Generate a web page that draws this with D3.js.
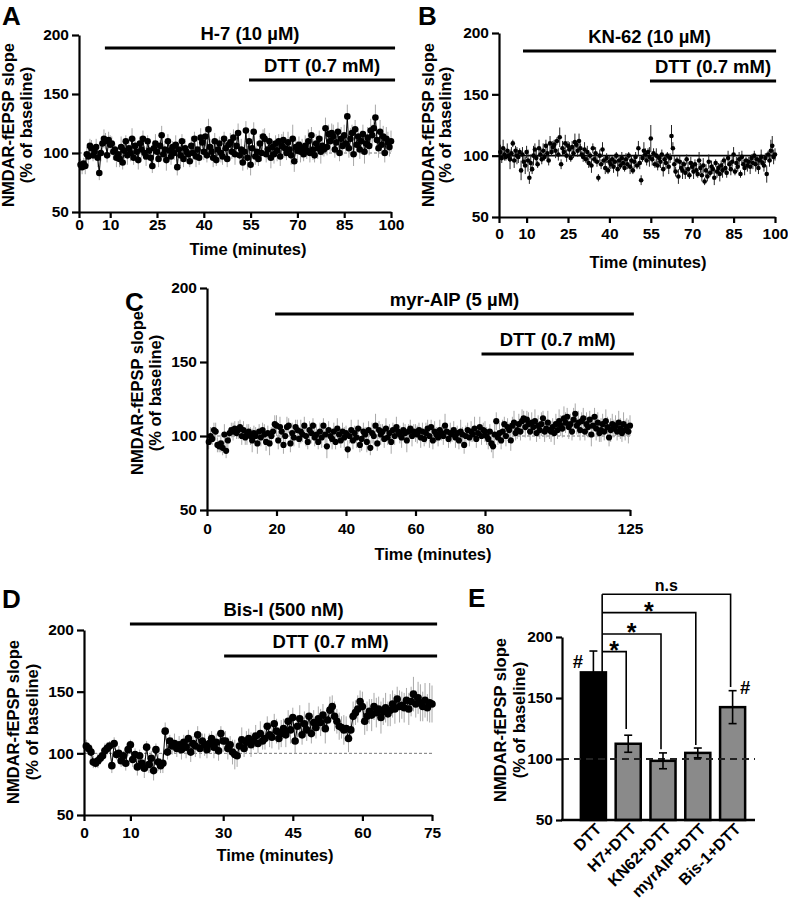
<!DOCTYPE html>
<html><head><meta charset="utf-8">
<script src="https://cdn.jsdelivr.net/npm/d3@7"></script>
<style>body{margin:0;background:#fff}</style>
</head><body><svg id="fig" width="788" height="899"></svg>
<script>
// ---------------- DATA ----------------
const yTicks=[50,100,150,200];
const sampleInterval=0.5; // minutes between recorded points

// Panel A: H-7
const valsA=[90,88,91,89,99,97,106,104,98,101,105,96,83,100,108,112,110,98,111,107,
108,101,103,96,99,95,105,92,102,110,98,104,100,112,96,106,101,94,108,103,
112,100,97,110,102,96,89,104,108,101,95,106,115,99,103,94,110,102,97,105,
100,107,88,103,98,110,95,104,101,99,93,106,100,112,97,103,96,113,109,101,
114,98,120,105,101,96,110,94,103,108,100,97,112,104,95,107,109,101,113,99,
106,117,98,103,92,101,119,96,110,90,104,118,97,101,95,108,100,114,112,99,
103,110,96,105,99,108,102,110,97,106,111,104,100,109,103,98,112,93,105,102,
107,101,104,99,106,102,110,100,115,103,98,108,104,112,101,106,103,121,105,116,
110,117,114,103,109,118,100,112,106,115,108,131,104,112,117,99,120,107,114,103,
110,116,101,108,113,106,119,115,121,130,111,104,118,107,114,100,112,109,105,110];
const errA=[5,6,5,7,6,8,6,7,5,6,7,8,6,7,6,8,7,6,7,8,
6,7,5,8,6,7,9,6,7,5,8,6,7,9,6,7,5,8,6,7,
7,6,8,5,7,9,6,7,8,6,7,5,8,6,7,9,6,8,7,5,
6,8,7,5,9,6,7,8,6,7,5,8,7,6,9,7,6,8,5,7,
8,6,9,7,6,8,7,5,9,6,8,7,6,9,7,5,8,6,7,9,
7,8,6,9,7,6,8,10,7,9,6,8,7,9,6,8,7,6,9,7,
8,7,9,6,8,7,9,6,8,10,7,8,6,9,7,8,12,9,7,8,
7,9,8,6,9,7,10,8,7,9,6,8,9,7,10,8,6,9,7,8,
9,8,10,7,9,8,7,10,8,9,7,10,8,9,7,10,8,9,7,8,
9,8,10,7,9,8,10,9,8,11,9,8,10,7,9,8,10,9,8,9];
const xTicksA=[0,10,25,40,55,70,85,100];
const drugNamesA=["H-7 (10 µM)","DTT (0.7 mM)"];
const drugStartA=[8.3,54.5], drugEndA=[101.3,101.3];

// Panel B: KN-62
const valsB=[103,98,106,101,99,104,100,97,102,110,96,104,100,99,103,88,101,95,92,103,
96,82,94,89,100,105,98,93,106,101,97,104,99,108,102,96,110,103,107,109,
104,112,101,115,93,106,103,110,100,108,105,98,107,102,111,109,104,112,106,101,
99,105,97,103,94,100,92,106,97,102,95,82,100,93,105,96,90,98,88,95,
93,97,91,95,100,89,96,92,98,94,90,97,93,100,91,96,88,95,99,92,
106,94,80,98,104,101,96,103,99,114,97,102,93,100,92,98,95,101,89,97,
94,100,91,98,116,106,93,87,96,83,95,90,88,93,86,97,89,84,94,91,
87,93,88,85,96,90,84,92,79,88,83,95,86,91,89,82,94,87,90,85,
92,88,96,90,86,98,93,89,95,101,87,94,91,97,85,99,93,90,96,92,
95,91,98,94,100,93,97,90,96,99,94,92,98,85,101,96,104,108,99,101];
const errB=[6,4,7,5,3,6,4,8,5,3,6,4,7,5,3,8,6,4,7,5,
9,5,7,4,8,5,6,3,7,5,4,6,3,5,7,4,6,3,5,4,
6,3,5,8,4,6,3,7,5,4,6,3,5,4,7,3,5,6,4,3,
4,6,3,5,4,3,6,4,3,5,4,3,5,4,6,3,5,4,3,5,
4,3,5,4,3,6,4,3,5,4,3,5,4,3,6,4,3,5,4,3,
6,5,4,3,7,5,4,3,8,11,5,4,3,6,4,3,5,4,6,3,
5,3,6,4,9,5,7,4,3,6,5,4,7,3,5,4,6,3,5,4,
6,4,5,3,7,4,5,6,3,5,4,6,3,5,4,6,3,5,4,6,
4,6,3,5,4,6,3,5,4,6,3,5,4,6,3,5,4,6,3,5,
4,6,3,5,4,6,3,5,4,6,3,5,4,7,3,5,9,8,6,5];
const xTicksB=[0,10,25,40,55,70,85,100];
const drugNamesB=["KN-62 (10 µM)","DTT (0.7 mM)"];
const drugStartB=[8.7,54.7], drugEndB=[100.4,100.4];

// Panel C: myr-AIP
const valsC=[96,100,98,104,103,94,93,95,92,101,90,97,102,104,103,105,102,104,106,100,
104,99,101,103,100,97,102,100,95,103,99,104,101,96,102,95,100,103,108,107,
97,106,103,94,100,106,107,95,102,99,106,104,98,103,101,107,100,96,104,102,
107,99,101,96,103,99,107,101,93,104,100,98,103,96,105,101,97,103,99,102,
91,100,104,97,102,99,105,94,98,103,101,96,104,92,102,100,107,95,104,101,
103,98,105,99,102,96,104,100,106,103,101,99,104,102,97,103,105,100,103,102,
101,104,99,103,98,102,105,100,106,97,103,101,99,104,102,100,107,103,98,102,
101,104,99,102,97,103,101,94,100,104,99,103,101,105,98,102,106,100,104,103,
100,98,103,95,93,101,110,99,102,97,103,108,100,106,104,97,107,109,102,104,
108,103,110,112,106,111,108,103,109,106,110,102,107,104,108,112,103,105,109,104,
103,106,102,108,104,110,107,105,112,109,113,106,108,103,111,115,107,109,104,110,
112,103,108,106,111,101,107,113,105,109,102,104,108,103,110,106,99,104,108,105,
107,103,109,105,102,108,104,106,103,107];
const errC=[5,6,4,5,6,5,4,6,5,7,5,6,4,5,6,5,4,6,5,6,
6,5,7,5,6,8,5,6,7,5,6,5,7,6,5,8,6,5,6,7,
6,7,5,6,8,7,5,6,7,6,5,7,6,8,5,6,7,5,6,7,
5,6,7,5,6,7,5,6,8,6,5,7,6,5,7,6,5,6,7,5,
6,5,7,6,5,7,6,5,8,6,5,7,6,5,7,6,8,5,6,7,
5,6,7,5,6,8,5,6,7,5,6,7,5,6,8,5,6,7,5,6,
6,5,7,6,5,7,6,8,5,6,7,5,6,7,5,6,8,5,6,7,
5,6,7,5,6,8,5,6,7,5,6,7,5,8,6,5,7,6,5,7,
6,7,5,6,8,7,6,5,7,6,8,5,7,6,5,7,6,8,5,6,
7,6,8,5,7,6,8,6,7,5,8,6,7,6,8,5,7,6,8,6,
7,6,8,7,6,8,7,6,8,7,6,8,7,6,8,7,6,8,7,6,
7,6,8,7,6,8,7,6,8,7,6,8,7,6,8,7,6,8,7,6,
7,6,8,7,6,8,7,6,8,7];
const xTicksC=[0,20,40,60,80,125];
const drugNamesC=["myr-AIP (5 µM)","DTT (0.7 mM)"];
const drugStartC=[19.6,79], drugEndC=[126.2,126.2];

// Panel D: Bis-I
const valsD=[106,104,101,93,92,94,96,98,102,104,106,90,108,99,100,94,98,92,103,107,
95,99,89,98,92,88,105,91,96,86,103,93,90,92,118,101,110,106,108,104,
107,103,109,105,112,101,108,106,115,104,110,107,103,108,112,105,109,102,116,110,
110,104,107,101,99,98,106,111,104,109,112,107,110,114,108,116,110,112,122,115,
113,124,118,112,116,120,115,126,119,129,110,122,128,115,124,119,130,116,125,121,
128,125,131,120,127,135,138,130,126,122,121,119,120,112,119,130,133,136,142,138,
126,130,134,131,138,133,136,129,134,137,132,135,140,136,144,138,139,137,143,136,
142,148,140,145,141,138,143,137,141,140];
const errD=[5,4,6,5,4,6,5,4,6,5,4,6,5,4,6,5,4,6,5,4,
6,5,7,5,6,8,5,7,6,8,5,7,6,8,7,6,5,7,8,7,
7,8,6,9,7,8,6,9,7,8,6,9,7,8,6,9,7,8,6,9,
8,9,7,10,12,9,8,10,7,9,8,10,7,9,8,10,7,9,8,10,
9,8,10,9,11,8,10,9,11,8,10,9,11,8,10,9,11,8,10,9,
10,11,9,12,10,11,9,12,10,11,9,12,10,11,9,12,10,11,9,12,
11,12,10,13,11,12,10,13,11,12,10,13,11,12,10,13,11,12,10,13,
12,14,11,13,15,12,14,11,16,15];
const xTicksD=[0,10,30,45,60,75];
const drugNamesD=["Bis-I (500 nM)","DTT (0.7 mM)"];
const drugStartD=[9.9,30.2], drugEndD=[76.1,76.1];

// Panel E: summary bars
const categoriesE=["DTT","H7+DTT","KN62+DTT","myrAIP+DTT","Bis-1+DTT"];
const meansE=[171,112.5,98.5,105,142.5];
const semE=[17.5,7,6.5,4,13.5];
const compTargets=["H7+DTT","KN62+DTT","myrAIP+DTT","Bis-1+DTT"];
const compLabels=["*","*","*","n.s"];
const compLevels=[188,202.5,220,235];
const compDrops=[124.5,108,111.5,159];
const hashMarked=["DTT","Bis-1+DTT"];

// ---------------- DRAWING ----------------
const svg=d3.select('#fig');
const FONT='"Liberation Sans", Arial, Helvetica, sans-serif';

function styleAxis(g,fs){
  g.select('.domain').attr('stroke','#000').attr('stroke-width',2.2);
  g.selectAll('.tick line').attr('stroke','#000').attr('stroke-width',2.2);
  g.selectAll('.tick text').attr('font-size',fs).attr('font-weight','bold')
    .attr('font-family',FONT).attr('fill','#000');
}
function txt(g,s,x,y,fs,anchor,weight){
  return g.append('text').attr('x',x).attr('y',y).attr('font-size',fs)
    .attr('font-family',FONT).attr('font-weight',weight||'bold')
    .attr('text-anchor',anchor||'middle').attr('fill','#000').text(s);
}
function yTitle(g,b1,b2,cy){
  const t=g.append('g');
  [["NMDAR-fEPSP slope",b1],["(% of baseline)",b2]].forEach(([s,bx])=>{
    t.append('text').attr('transform',`translate(${bx},${cy}) rotate(-90)`)
     .attr('text-anchor','middle').attr('font-size',16.5).attr('font-weight','bold')
     .attr('font-family',FONT).attr('fill','#000').text(s);
  });
}

function timePanel(p){
  const g=svg.append('g');
  const x=p.x,y=p.y;
  const t=p.vals.map((v,i)=>(i+1)*sampleInterval);
  const xr=x.range();
  g.append('line').attr('x1',xr[0]).attr('x2',xr[xr.length-1]).attr('y1',y(100)).attr('y2',y(100))
    .attr('stroke',p.refColor).attr('stroke-width',p.refW).attr('stroke-dasharray',p.refDash);
  g.append('g').selectAll('line').data(p.vals).join('line')
    .attr('x1',(d,i)=>x(t[i])).attr('x2',(d,i)=>x(t[i]))
    .attr('y1',(d,i)=>y(d-p.err[i])).attr('y2',(d,i)=>y(d+p.err[i]))
    .attr('stroke',p.errColor).attr('stroke-width',1);
  if(p.connect){
    g.append('path').datum(p.vals)
      .attr('d',d3.line().x((d,i)=>x(t[i])).y(d=>y(d)))
      .attr('fill','none').attr('stroke','#000').attr('stroke-width',1);
  }
  g.append('g').selectAll('circle').data(p.vals).join('circle')
    .attr('cx',(d,i)=>x(t[i])).attr('cy',d=>y(d)).attr('r',p.r).attr('fill','#000');
  const ya=g.append('g').attr('transform',`translate(${x(0)},0)`)
    .call(d3.axisLeft(y).tickValues(yTicks).tickSize(7).tickPadding(3).tickSizeOuter(0));
  styleAxis(ya,15.5);
  const xa=g.append('g').attr('transform',`translate(0,${y(50)})`)
    .call(d3.axisBottom(x).tickValues(p.xTicks).tickSize(6).tickPadding(p.xpad).tickSizeOuter(0).tickFormat(d3.format('d')));
  styleAxis(xa,15.5);
  p.drugs.forEach((name,i)=>{
    const x1=x(p.dStart[i]),x2=x(p.dEnd[i]),yy=p.drugY[i];
    g.append('line').attr('x1',x1).attr('x2',x2).attr('y1',yy).attr('y2',yy)
      .attr('stroke','#000').attr('stroke-width',2.8);
    txt(g,name,(x1+x2)/2,yy-8,18.5);
  });
  txt(g,"Time (minutes)",p.tx,p.ty,16.5);
  yTitle(g,p.yt[0],p.yt[1],p.yt[2]);
  txt(g,p.letter,p.lx,p.ly,26,'start');
}

timePanel({letter:'A',lx:2,ly:25,vals:valsA,err:errA,xTicks:xTicksA,
  x:d3.scaleLinear().domain([0,100]).range([79,391]),
  y:d3.scaleLinear().domain([50,200]).range([212,35]),
  refColor:'#777',refW:1,refDash:'3,2',errColor:'#a8a8a8',connect:true,r:3.3,xpad:1,
  drugs:drugNamesA,dStart:drugStartA,dEnd:drugEndA,drugY:[48,80],
  tx:248,ty:255,yt:[14,32,125]});

timePanel({letter:'B',lx:418,ly:25,vals:valsB,err:errB,xTicks:xTicksB,
  x:d3.scaleLinear().domain([0,100]).range([499,775]),
  y:d3.scaleLinear().domain([50,200]).range([217,33]),
  refColor:'#000',refW:1.8,refDash:null,errColor:'#222',connect:false,r:2.3,xpad:5,
  drugs:drugNamesB,dStart:drugStartB,dEnd:drugEndB,drugY:[51,81],
  tx:648,ty:268,yt:[434,451,125]});

timePanel({letter:'C',lx:125,ly:311,vals:valsC,err:errC,xTicks:xTicksC,
  x:d3.scaleLinear().domain([0,80,125]).range([207,485,630]),
  y:d3.scaleLinear().domain([50,200]).range([510,288]),
  refColor:'#777',refW:1,refDash:'3,2',errColor:'#a8a8a8',connect:false,r:3.1,xpad:7,
  drugs:drugNamesC,dStart:drugStartC,dEnd:drugEndC,drugY:[314,354],
  tx:433,ty:560,yt:[143,161,393]});

timePanel({letter:'D',lx:2,ly:608,vals:valsD,err:errD,xTicks:xTicksD,
  x:d3.scaleLinear().domain([0,75]).range([84,432]),
  y:d3.scaleLinear().domain([50,200]).range([815,630]),
  refColor:'#777',refW:1,refDash:'3,2',errColor:'#a8a8a8',connect:true,r:3.8,xpad:6,
  drugs:drugNamesD,dStart:drugStartD,dEnd:drugEndD,drugY:[624,656],
  tx:275,ty:861,yt:[19,38,722]});

// Panel E
(function(){
  const g=svg.append('g');
  const y=d3.scaleLinear().domain([50,200]).range([820,637]);
  const x=d3.scaleBand().domain(categoriesE).range([576,750]).paddingInner(0.28).paddingOuter(0.14);
  const bw=x.bandwidth();
  const ax0=562, ax1=755;
  g.selectAll('rect.bar').data(categoriesE).join('rect').attr('class','bar')
    .attr('x',d=>x(d)).attr('width',bw)
    .attr('y',(d,i)=>y(meansE[i])).attr('height',(d,i)=>y(50)-y(meansE[i]))
    .attr('fill',(d,i)=>i===0?'#000':'#8a8a8a').attr('stroke','#000').attr('stroke-width',2.5);
  g.append('line').attr('x1',ax0).attr('x2',ax1).attr('y1',y(100)).attr('y2',y(100))
    .attr('stroke','#222').attr('stroke-width',2).attr('stroke-dasharray','7,5');
  categoriesE.forEach((c,i)=>{
    const cx=x(c)+bw/2;
    const hi=y(meansE[i]+semE[i]), lo=y(meansE[i]-semE[i]);
    g.append('line').attr('x1',cx).attr('x2',cx).attr('y1',hi).attr('y2',lo).attr('stroke','#000').attr('stroke-width',1.6);
    [hi,lo].forEach(yy=>g.append('line').attr('x1',cx-4).attr('x2',cx+4).attr('y1',yy).attr('y2',yy).attr('stroke','#000').attr('stroke-width',1.6));
  });
  const ya=g.append('g').attr('transform',`translate(${ax0},0)`)
    .call(d3.axisLeft(y).tickValues(yTicks).tickSize(6).tickPadding(3).tickSizeOuter(0));
  styleAxis(ya,15.5);
  g.append('line').attr('x1',ax0-1).attr('x2',ax1).attr('y1',y(50)).attr('y2',y(50)).attr('stroke','#000').attr('stroke-width',2.5);
  categoriesE.forEach(c=>{
    g.append('text').attr('transform',`translate(${x(c)+bw/2+5},${y(50)+6}) rotate(-45)`)
      .attr('text-anchor','end').attr('dy','0.35em').attr('font-size',16).attr('font-weight','bold')
      .attr('font-family',FONT).attr('fill','#000').text(c);
  });
  const sx=x(categoriesE[0])+bw*0.85;
  g.append('line').attr('x1',sx).attr('x2',sx).attr('y1',y(meansE[0])).attr('y2',y(d3.max(compLevels)))
    .attr('stroke','#000').attr('stroke-width',1.6);
  compTargets.forEach((c,i)=>{
    const tx=x(c)+bw/2-2, ly=y(compLevels[i]);
    g.append('path').attr('d',`M${sx},${ly}H${tx}V${y(compDrops[i])}`)
      .attr('fill','none').attr('stroke','#000').attr('stroke-width',1.6);
    if(compLabels[i]==='*') txt(g,'*',(sx+tx)/2,ly+7,25,'middle','bold');
    else txt(g,compLabels[i],(sx+tx)/2,ly-3,16);
  });
  hashMarked.forEach(c=>{
    const i=categoriesE.indexOf(c);
    const top=y(meansE[i]+semE[i]);
    if(i===0) txt(g,'#',x(c)-3,top+17,18.5);
    else txt(g,'#',x(c)+bw,top+3,18.5);
  });
  yTitle(g,506,525,720);
  txt(g,'E',468,607,26,'start');
})();
</script></body></html>
